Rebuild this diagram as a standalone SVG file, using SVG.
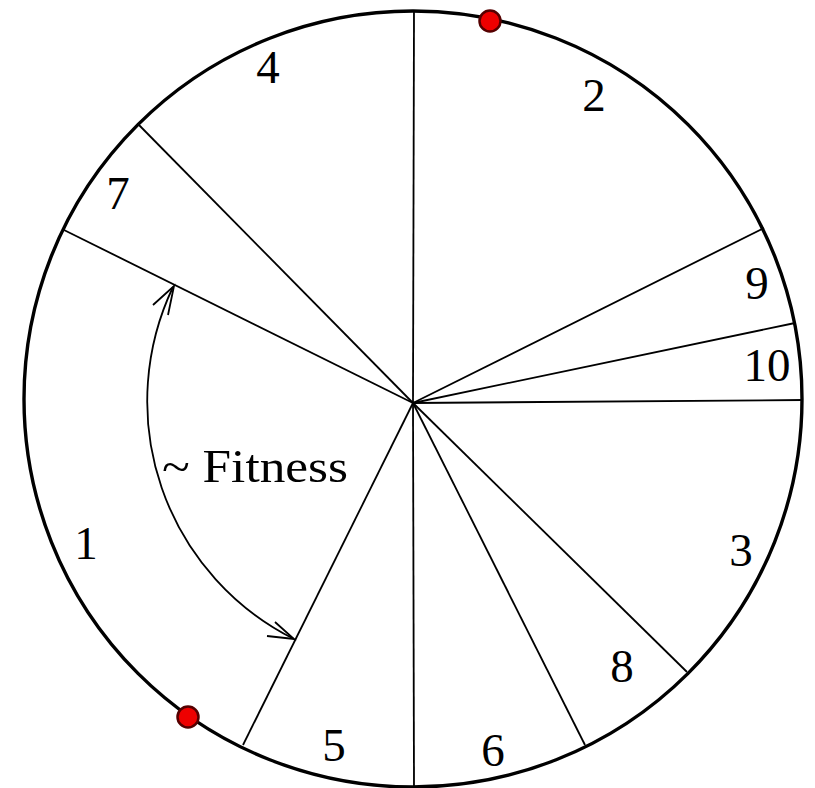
<svg xmlns="http://www.w3.org/2000/svg" width="815" height="788" viewBox="0 0 815 788">
<style>
.spoke{stroke:#000;stroke-width:1.8;fill:none}
.lbl{font-family:"Liberation Serif","Times New Roman",serif;font-size:47px;fill:#000}
.dot{fill:#ee0000;stroke:#550000;stroke-width:2.5}
</style>
<rect width="815" height="788" fill="#fff"/>
<g id="wheel">
<ellipse cx="413" cy="399" rx="389" ry="388" fill="none" stroke="#000" stroke-width="3.4"/>
</g>
<g id="connectors">
<line class="spoke" x1="413" y1="403" x2="414" y2="11"/>
<line class="spoke" x1="413" y1="403" x2="414" y2="787"/>
<line class="spoke" x1="413" y1="403" x2="138" y2="124"/>
<line class="spoke" x1="413" y1="403" x2="64" y2="230"/>
<line class="spoke" x1="413" y1="403" x2="764" y2="228"/>
<line class="spoke" x1="413" y1="403" x2="795" y2="323"/>
<line class="spoke" x1="413" y1="403" x2="803" y2="400"/>
<line class="spoke" x1="413" y1="403" x2="687" y2="672"/>
<line class="spoke" x1="413" y1="403" x2="585" y2="745"/>
<line class="spoke" x1="413" y1="403" x2="243" y2="745"/>
<path class="spoke" d="M173 287 A266 266 0 0 0 294 639"/>
<path class="spoke" d="M153 305 L174 286 L168 315"/>
<path class="spoke" d="M275 622 L294 639 L267 636"/>
</g>
<g id="dots">
<circle class="dot" cx="490" cy="21" r="10.5"/>
<circle class="dot" cx="188" cy="717" r="10.5"/>
</g>
<g id="labels">
<text class="lbl" x="268" y="83" text-anchor="middle">4</text>
<text class="lbl" x="594" y="111" text-anchor="middle">2</text>
<text class="lbl" x="118" y="209" text-anchor="middle">7</text>
<text class="lbl" x="757" y="299" text-anchor="middle">9</text>
<text class="lbl" x="767" y="381" text-anchor="middle">10</text>
<text class="lbl" x="162" y="482" font-size="53" textLength="186" lengthAdjust="spacingAndGlyphs">~ Fitness</text>
<text class="lbl" x="86" y="559" text-anchor="middle">1</text>
<text class="lbl" x="741" y="566" text-anchor="middle">3</text>
<text class="lbl" x="622" y="682" text-anchor="middle">8</text>
<text class="lbl" x="334" y="761" text-anchor="middle">5</text>
<text class="lbl" x="493" y="766" text-anchor="middle">6</text>
</g>
</svg>
